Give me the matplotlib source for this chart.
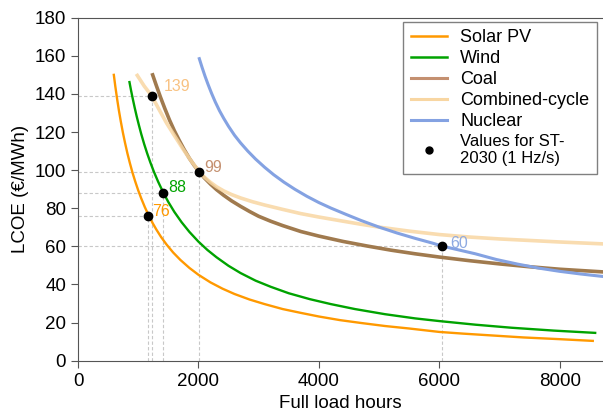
import matplotlib.pyplot as plt
from matplotlib.lines import Line2D

plt.rcParams['font.family'] = ['Liberation Sans', 'DejaVu Sans']

# courbes LCOE (heures de pleine charge -> €/MWh)
solar_h = [595, 620, 650, 680, 710, 745, 780, 820, 860, 905, 950, 1000, 1050, 1110, 1170, 1240, 1300, 1380,
           1470, 1580, 1700, 1850, 2000, 2200, 2400, 2600, 2850, 3100, 3400, 3700, 4000, 4350, 4700, 5100,
           5500, 6000, 6400, 6900, 7400, 8000, 8550]
solar_v = [150, 143.9, 137.3, 131.2, 125.7, 119.8, 114.5, 108.9, 103.9, 98.7, 94.1, 89.4, 85.2, 80.6, 76.5, 72.2,
           68.9, 64.9, 61, 56.8, 52.9, 48.7, 45.1, 41.1, 37.8, 35, 32.1, 29.7, 27.1, 25.1, 23.2, 21.3, 19.8, 18.2,
           16.9, 15.1, 14.2, 13.2, 12.2, 11.3, 10.4]

wind_h = [855, 880, 910, 940, 975, 1010, 1050, 1100, 1150, 1200, 1260, 1330, 1420, 1500, 1600, 1720, 1850, 2000,
          2150, 2300, 2500, 2700, 2950, 3200, 3500, 3850, 4200, 4600, 5100, 5600, 6000, 6600, 7200, 7900, 8590]
wind_v = [146.2, 142, 137.4, 133, 128.2, 123.8, 119, 113.6, 108.7, 104.2, 99.2, 94, 88, 83.3, 78.1, 72.7, 67.6, 62.5,
          58.1, 54.3, 49.8, 46, 42, 38.8, 35.4, 32.3, 29.7, 27.1, 24.4, 22.2, 20.8, 18.9, 17.3, 15.8, 14.6]

coal_h = [1240, 1300, 1370, 1440, 1520, 1600, 1680, 1760, 1850, 1930, 2015, 2100, 2200, 2300, 2420, 2550, 2700,
          2850, 3000, 3200, 3400, 3700, 4000, 4400, 4800, 5200, 5600, 6000, 6500, 7000, 7500, 8000, 8720]
coal_v = [150, 144.5, 138.3, 132.5, 126.3, 120.7, 115.7, 111, 106.2, 102.5, 99, 95.9, 92.7, 89.8, 86.8, 83.9, 81,
          78.3, 75.8, 73.2, 70.9, 67.8, 65.4, 62.6, 60.2, 58, 56.1, 54.4, 52.5, 50.8, 49.3, 48, 46.6]

cc_h = [985, 1100, 1224, 1350, 1473, 1600, 1750, 1880, 2015, 2100, 2200, 2300, 2420, 2550, 2700, 2900, 3100, 3400,
        3700, 4000, 4350, 4700, 5000, 5500, 6000, 6500, 7000, 7500, 8000, 8720]
cc_v = [149.7, 144.1, 139, 131.6, 124.6, 118.2, 110.8, 104.8, 99.2, 96.3, 93.6, 91.3, 89.1, 87.2, 85.4, 83.4, 81.7,
        79.4, 77.2, 75.4, 73.5, 71.6, 70.1, 68, 66.2, 64.9, 63.9, 63.1, 62.3, 61.3]

nuc_h = [2015, 2060, 2110, 2160, 2220, 2280, 2350, 2420, 2500, 2600, 2700, 2820, 2950, 3100, 3250, 3420, 3600,
         3800, 4000, 4200, 4450, 4700, 5000, 5300, 5600, 5900, 6040, 6300, 6600, 6950, 7300, 7650, 8000, 8350, 8720]
nuc_v = [158.5, 154, 149.3, 145, 140.2, 135.8, 131.2, 127.2, 123, 118.3, 114.3, 110, 105.8, 101.5, 97.6, 93.7, 90,
         86.3, 83, 80.1, 76.8, 73.6, 70.1, 67, 64.2, 61.6, 60.2, 58.3, 56.1, 53.1, 50.7, 48.6, 46.9, 45.5, 44.2]

# valeurs ST-2030 (1 Hz/s)
pt_h = [1170, 1224, 1420, 2015, 6040]
pt_v = [76, 139, 88, 99, 60]
pt_lbl = ['76', '139', '88', '99', '60']

col_solar = '#ff9900'
col_wind = '#00a300'
col_coal = '#c49070'
col_coal_line = '#a07a4e'
col_cc = '#f8d6a2'
col_nuc = '#84a2e2'
pt_col = ['#ff9900', '#f8c282', '#00a300', '#c49070', '#8eaae2']
pt_off = [(3, 3), (8.5, 7), (3.6, 4.3), (3.6, 3.6), (6, 2.2)]

fig = plt.figure(figsize=(6.03, 4.17), dpi=100)
ax = fig.add_axes([78 / 603, 56.3 / 417, 525 / 603, 343 / 417])

# lignes pointillées de repère
for h, v in zip(pt_h, pt_v):
    ax.plot([0, h], [v, v], color='#c8c8c8', lw=0.8, ls=(0, (3, 2)), zorder=1)
    ax.plot([h, h], [0, v], color='#c8c8c8', lw=0.8, ls=(0, (3, 2)), zorder=1)

ax.plot(solar_h, solar_v, color=col_solar, lw=1.7, zorder=3)
ax.plot(wind_h, wind_v, color=col_wind, lw=1.7, zorder=3)
ax.plot(coal_h, coal_v, color=col_coal_line, lw=2.6, zorder=2)
ax.plot(cc_h, cc_v, color=col_cc, lw=2.6, alpha=0.85, zorder=3)
ax.plot(nuc_h, nuc_v, color=col_nuc, lw=2.2, zorder=3)

ax.plot(pt_h, pt_v, 'o', color='black', ms=6, zorder=5)
for h, v, t, c, off in zip(pt_h, pt_v, pt_lbl, pt_col, pt_off):
    ax.annotate(t, (h, v), xytext=off, textcoords='offset points',
                color=c, fontsize=11.5, ha='left', va='center')

ax.set_xlim(0, 8720)
ax.set_ylim(0, 180)
ax.set_xticks([0, 2000, 4000, 6000, 8000])
ax.set_yticks(range(0, 181, 20))
ax.tick_params(labelsize=13.5, color='#555555', length=5)
ax.set_xlabel('Full load hours', fontsize=13.5)
ax.set_ylabel('LCOE (€/MWh)', fontsize=13.5)
for s in ['left', 'bottom', 'top']:
    ax.spines[s].set_color('#555555')
ax.spines['right'].set_visible(False)

handles = [
    Line2D([], [], color=col_solar, lw=1.8),
    Line2D([], [], color=col_wind, lw=1.8),
    Line2D([], [], color=col_coal, lw=2.2),
    Line2D([], [], color=col_cc, lw=2.2),
    Line2D([], [], color=col_nuc, lw=2.2),
    Line2D([], [], color='black', marker='o', ls='none', ms=5),
]
labels = ['Solar PV', 'Wind', 'Coal', 'Combined-cycle', 'Nuclear', 'Values for ST-\n2030 (1 Hz/s)']
leg = ax.legend(handles, labels, loc='upper right', bbox_to_anchor=(0.988, 0.988),
                borderaxespad=0, fontsize=13, fancybox=False, framealpha=1,
                edgecolor='#808080', handlelength=2.0, handletextpad=0.75,
                labelspacing=0.22, borderpad=0.4)
leg.get_frame().set_linewidth(1.0)
leg.get_texts()[5].set_fontsize(12)

fig.savefig('out.png', dpi=100)
